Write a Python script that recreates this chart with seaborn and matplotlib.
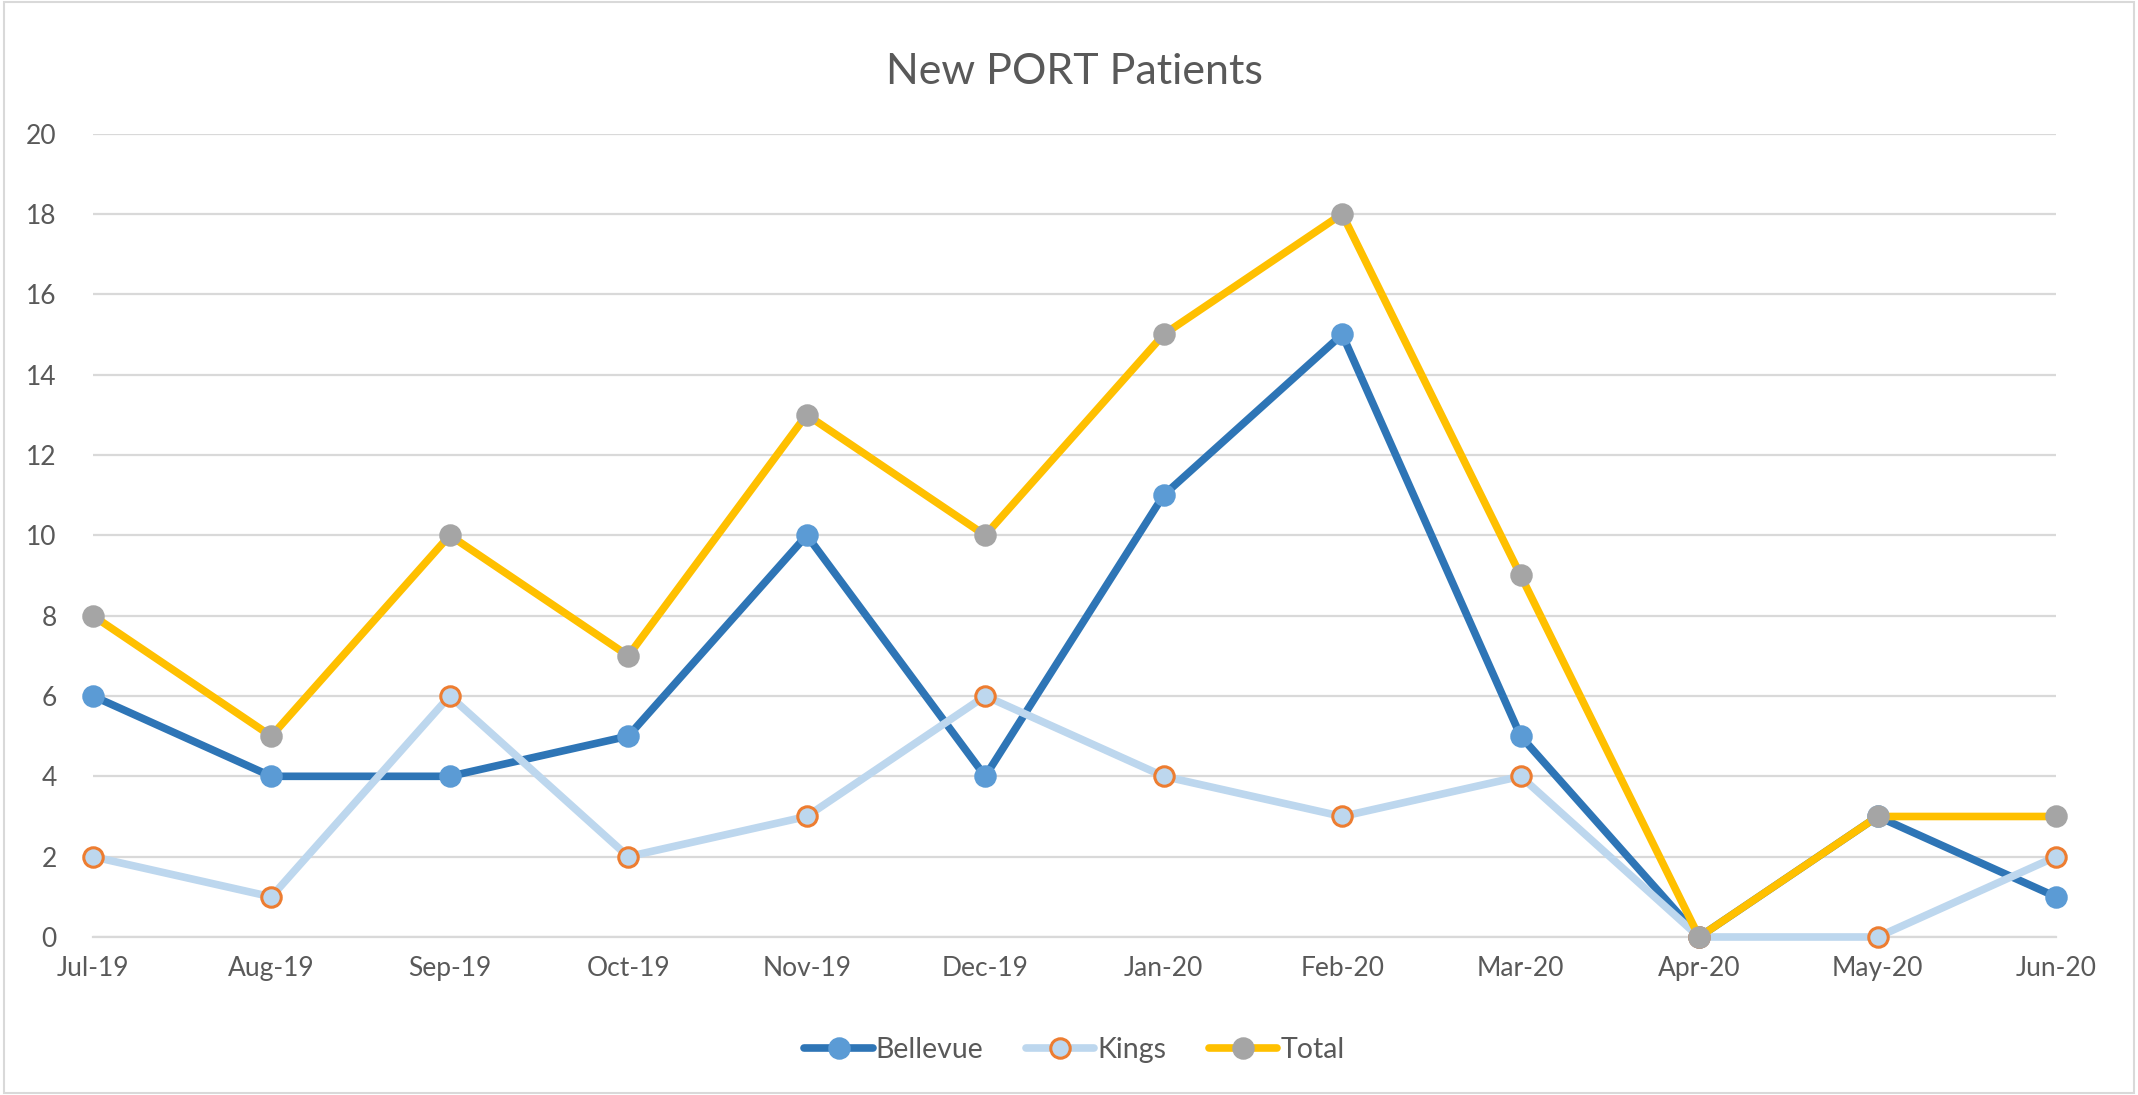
import numpy as np
import pandas as pd
import matplotlib
matplotlib.use("Agg")
import matplotlib.pyplot as plt
import seaborn as sns
from matplotlib.patches import Rectangle

months = ['Jul-19', 'Aug-19', 'Sep-19', 'Oct-19', 'Nov-19', 'Dec-19',
          'Jan-20', 'Feb-20', 'Mar-20', 'Apr-20', 'May-20', 'Jun-20']
bellevue = [6, 4, 4, 5, 10, 4, 11, 15, 5, 0, 3, 1]
kings = [2, 1, 6, 2, 3, 6, 4, 3, 4, 0, 0, 2]
total = [8, 5, 10, 7, 13, 10, 15, 18, 9, 0, 3, 3]

sns.set_style("white")
plt.rcParams['font.family'] = ['Lato', 'DejaVu Sans']

fig = plt.figure(figsize=(21.38, 10.95), dpi=100)
ax = fig.add_axes([0.0434, 0.1443, 0.9183, 0.7337])

x = np.arange(len(months))
series = [
    ('Bellevue', bellevue, '#2E75B6', '#5B9BD5', '#5B9BD5'),
    ('Kings', kings, '#BDD7EE', '#BDD7EE', '#ED7D31'),
    ('Total', total, '#FFC000', '#A5A5A5', '#A5A5A5'),
]
for name, vals, lc, mfc, mec in series:
    df = pd.DataFrame({'x': x, 'y': vals})
    sns.lineplot(data=df, x='x', y='y', ax=ax, color=lc, linewidth=5.5,
                 marker='o', markersize=14, markerfacecolor=mfc,
                 markeredgecolor=mec, markeredgewidth=2.2, label=name,
                 solid_capstyle='round', clip_on=False, zorder=3)

ax.set_xlim(0, 11)
ax.set_ylim(0, 20)
ax.set_yticks(range(0, 21, 2))
ax.set_xticks(x)
ax.set_xticklabels(months)
ax.set_xlabel('')
ax.set_ylabel('')
ax.grid(axis='y', color='#D9D9D9', linewidth=1.6)
ax.grid(axis='x', visible=False)
for s in ['left', 'right', 'top']:
    ax.spines[s].set_visible(False)
ax.spines['bottom'].set_color('#D9D9D9')
ax.spines['bottom'].set_linewidth(1.6)
ax.tick_params(axis='x', length=9, width=1.6, color='#D9D9D9', direction='out',
               labelsize=19, labelcolor='#595959', pad=5)
ax.tick_params(axis='y', length=0, labelsize=19, labelcolor='#595959', pad=26)

ax.set_title('New PORT Patients', fontsize=31, color='#595959', pad=36)

leg = ax.legend(loc='center', bbox_to_anchor=(0.5, -0.141), ncol=3, frameon=False,
                fontsize=20.5, handlelength=2.4, handletextpad=0.1, columnspacing=1.5)
for t in leg.get_texts():
    t.set_color('#595959')

fig.patches.append(Rectangle((0.002, 0.002), 0.996, 0.996, transform=fig.transFigure,
                             fill=False, edgecolor='#D9D9D9', linewidth=1.5))

fig.savefig('out.png', dpi=100)
